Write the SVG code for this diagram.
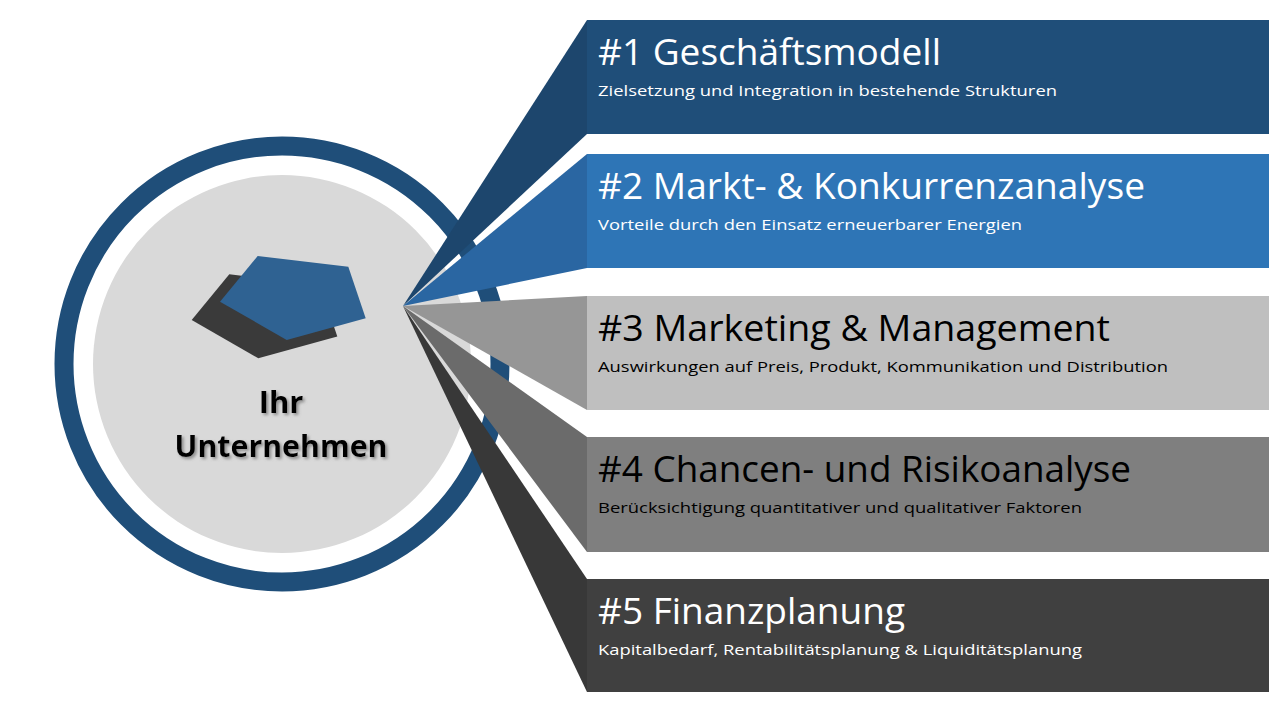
<svg xmlns="http://www.w3.org/2000/svg" width="1280" height="720" viewBox="0 0 1280 720">
  <defs>
    <style>
      .title { font-family: "Open Sans", "Noto Sans", sans-serif; font-size: 37px; }
      .sub { font-family: "Open Sans", "Noto Sans", sans-serif; font-size: 15px; }
      .light { fill: #ffffff; }
      .dark { fill: #000000; }
      .center-label { font-family: "Open Sans", "Noto Sans", sans-serif; font-size: 31px; font-weight: bold; fill: #000000; text-anchor: middle; }
    </style>
    <filter id="shadow" x="-10%" y="-30%" width="120%" height="160%">
      <feDropShadow dx="2" dy="2" stdDeviation="1.4" flood-color="#7a7a7a" flood-opacity="0.8"/>
    </filter>
  </defs>
  <rect width="1280" height="720" fill="#ffffff"/>

  <g id="center">
    <circle cx="282" cy="364" r="218" fill="none" stroke="#1f4e79" stroke-width="19"/>
    <circle cx="282" cy="364" r="189" fill="#d9d9d9"/>
    <polygon points="229.3,274.3 320,285 337.3,336.6 258.3,358.3 191.7,320" fill="#3a3a3a"/>
    <polygon points="257.7,256 348.3,266.7 365.7,318.3 286.7,340 220,301.7" fill="#2f6292"/>
    <g filter="url(#shadow)">
      <text class="center-label" x="281" y="413">Ihr</text>
      <text class="center-label" x="281" y="457" textLength="213" lengthAdjust="spacingAndGlyphs">Unternehmen</text>
    </g>
  </g>

  <g id="connectors">
    <polygon points="403,306 587,20 587,134" fill="#1d466d"/>
    <polygon points="403,306 587,154 587,268" fill="#2a66a2"/>
    <polygon points="403,306 587,296 587,410" fill="#969696"/>
    <polygon points="403,306 587,437 587,552" fill="#6b6b6b"/>
    <polygon points="403,306 587,579 587,692" fill="#383838"/>
  </g>

  <g id="item1">
    <rect x="587" y="20" width="682" height="114" fill="#1f4e79"/>
    <text class="title light" x="598" y="65" textLength="343" lengthAdjust="spacingAndGlyphs">#1 Geschäftsmodell</text>
    <text class="sub light" x="598" y="96" textLength="459" lengthAdjust="spacingAndGlyphs">Zielsetzung und Integration in bestehende Strukturen</text>
  </g>

  <g id="item2">
    <rect x="587" y="154" width="682" height="114" fill="#2e75b6"/>
    <text class="title light" x="598" y="199" textLength="547" lengthAdjust="spacingAndGlyphs">#2 Markt- &amp; Konkurrenzanalyse</text>
    <text class="sub light" x="598" y="230" textLength="424" lengthAdjust="spacingAndGlyphs">Vorteile durch den Einsatz erneuerbarer Energien</text>
  </g>

  <g id="item3">
    <rect x="587" y="296" width="682" height="114" fill="#bfbfbf"/>
    <text class="title dark" x="598" y="341" textLength="512" lengthAdjust="spacingAndGlyphs">#3 Marketing &amp; Management</text>
    <text class="sub dark" x="598" y="372" textLength="570" lengthAdjust="spacingAndGlyphs">Auswirkungen auf Preis, Produkt, Kommunikation und Distribution</text>
  </g>

  <g id="item4">
    <rect x="587" y="437" width="682" height="115" fill="#7f7f7f"/>
    <text class="title dark" x="598" y="482" textLength="533" lengthAdjust="spacingAndGlyphs">#4 Chancen- und Risikoanalyse</text>
    <text class="sub dark" x="598" y="513" textLength="484" lengthAdjust="spacingAndGlyphs">Berücksichtigung quantitativer und qualitativer Faktoren</text>
  </g>

  <g id="item5">
    <rect x="587" y="579" width="682" height="113" fill="#404040"/>
    <text class="title light" x="598" y="624" textLength="307" lengthAdjust="spacingAndGlyphs">#5 Finanzplanung</text>
    <text class="sub light" x="598" y="655" textLength="484" lengthAdjust="spacingAndGlyphs">Kapitalbedarf, Rentabilitätsplanung &amp; Liquiditätsplanung</text>
  </g>
</svg>
